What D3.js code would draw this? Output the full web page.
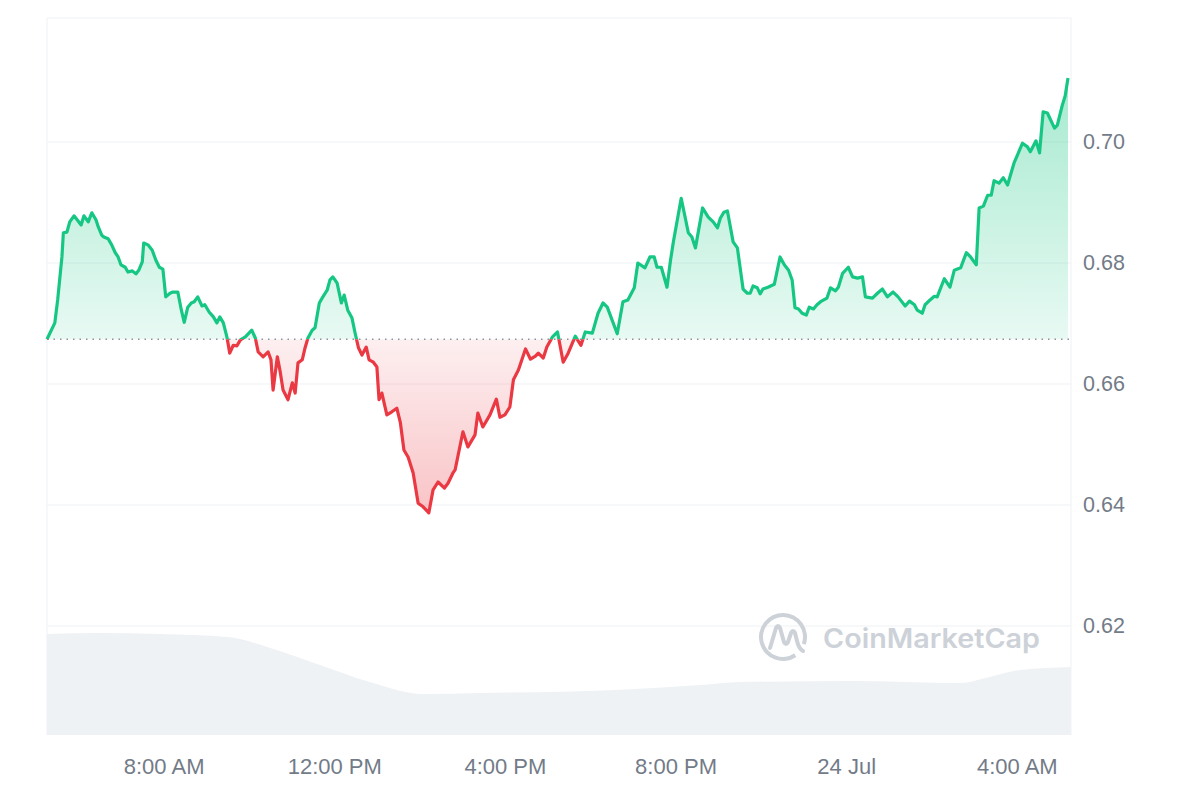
<!DOCTYPE html>
<html lang="en">
<head>
<meta charset="UTF-8" />
<title>price chart</title>
<script src="https://d3js.org/d3.v7.min.js"></script>
<style>
  body { margin: 0; background: #fff; }
  svg text { font-family: "Liberation Sans", Arial, sans-serif; fill: #737b88; }
</style>
</head>
<body>
<script>
// minutes after 23 Jul 05:16
var priceMinutes = [
  0, 11, 15, 21, 23, 28, 32, 38, 44, 48,
  52, 58, 63, 69, 72, 77, 80, 86, 91, 96,
  100, 104, 110, 114, 120, 125, 129, 134, 136, 142,
  148, 153, 158, 163, 167, 173, 177, 184, 189, 193,
  198, 203, 207, 212, 218, 222, 228, 234, 239, 243,
  248, 253, 257, 262, 267, 272, 279, 288, 293, 297,
  304, 311, 315, 318, 324, 328, 332, 339, 345, 349,
  353, 359, 363, 367, 373, 377, 383, 388, 394, 398,
  402, 408, 414, 418, 423, 429, 433, 438, 443, 449,
  453, 459, 464, 467, 471, 478, 485, 492, 497, 502,
  508, 515, 522, 529, 537, 543, 550, 559, 564, 571,
  574, 585, 592, 602, 606, 613, 623, 632, 637, 644,
  651, 656, 663, 673, 680, 687, 691, 698, 703, 711,
  718, 726, 733, 743, 751, 757, 767, 775, 782, 788,
  802, 810, 817, 826, 831, 841, 848, 854, 858, 864,
  872, 877, 881, 892, 902, 907, 912, 922, 930, 937,
  943, 947, 952, 957, 965, 971, 979, 985, 989, 993,
  999, 1003, 1007, 1014, 1023, 1031, 1037, 1043, 1048, 1052,
  1057, 1062, 1068, 1072, 1078, 1083, 1088, 1097, 1102, 1109,
  1113, 1119, 1127, 1133, 1140, 1147, 1151, 1161, 1168, 1175,
  1182, 1190, 1197, 1207, 1213, 1220, 1224, 1231, 1235, 1242,
  1248, 1252, 1262, 1270, 1276, 1285, 1293, 1299, 1307, 1311,
  1317, 1323, 1328, 1332, 1339, 1345, 1351, 1360, 1372, 1379,
  1383, 1391, 1396, 1401, 1407, 1417, 1421, 1428, 1432, 1436
];
var prices = [
  0.6674, 0.6701, 0.6739, 0.6810, 0.6850, 0.6851, 0.6868, 0.6878, 0.6869, 0.6863,
  0.6878, 0.6868, 0.6883, 0.6871, 0.6860, 0.6846, 0.6843, 0.6840, 0.6830, 0.6817,
  0.6810, 0.6797, 0.6793, 0.6785, 0.6787, 0.6782, 0.6788, 0.6802, 0.6833, 0.6830,
  0.6821, 0.6805, 0.6793, 0.6790, 0.6744, 0.6750, 0.6752, 0.6752, 0.6722, 0.6702,
  0.6727, 0.6734, 0.6736, 0.6744, 0.6729, 0.6731, 0.6719, 0.6711, 0.6701, 0.6711,
  0.6701, 0.6678, 0.6651, 0.6664, 0.6663, 0.6673, 0.6678, 0.6689, 0.6676, 0.6653,
  0.6645, 0.6653, 0.6640, 0.6590, 0.6645, 0.6620, 0.6590, 0.6574, 0.6602, 0.6585,
  0.6635, 0.6640, 0.6660, 0.6676, 0.6689, 0.6693, 0.6734, 0.6744, 0.6755, 0.6772,
  0.6777, 0.6767, 0.6734, 0.6747, 0.6722, 0.6709, 0.6686, 0.6660, 0.6648, 0.6661,
  0.6640, 0.6636, 0.6628, 0.6574, 0.6585, 0.6549, 0.6554, 0.6560, 0.6536, 0.6491,
  0.6479, 0.6453, 0.6403, 0.6397, 0.6387, 0.6425, 0.6438, 0.6428, 0.6436, 0.6453,
  0.6458, 0.6521, 0.6496, 0.6516, 0.6552, 0.6529, 0.6549, 0.6575, 0.6545, 0.6549,
  0.6562, 0.6607, 0.6623, 0.6658, 0.6641, 0.6646, 0.6651, 0.6643, 0.6661, 0.6678,
  0.6686, 0.6636, 0.6651, 0.6679, 0.6664, 0.6686, 0.6684, 0.6717, 0.6734, 0.6727,
  0.6683, 0.6736, 0.6739, 0.6759, 0.6800, 0.6792, 0.6810, 0.6810, 0.6793, 0.6793,
  0.6760, 0.6805, 0.6835, 0.6907, 0.6850, 0.6843, 0.6825, 0.6891, 0.6876, 0.6868,
  0.6858, 0.6874, 0.6884, 0.6886, 0.6835, 0.6825, 0.6757, 0.6750, 0.6750, 0.6762,
  0.6759, 0.6749, 0.6757, 0.6760, 0.6765, 0.6810, 0.6797, 0.6788, 0.6772, 0.6726,
  0.6724, 0.6717, 0.6714, 0.6727, 0.6724, 0.6731, 0.6736, 0.6742, 0.6759, 0.6754,
  0.6760, 0.6783, 0.6793, 0.6777, 0.6775, 0.6777, 0.6744, 0.6742, 0.6750, 0.6757,
  0.6744, 0.6752, 0.6744, 0.6729, 0.6737, 0.6731, 0.6722, 0.6717, 0.6731, 0.6739,
  0.6745, 0.6744, 0.6774, 0.6760, 0.6788, 0.6792, 0.6817, 0.6810, 0.6797, 0.6891,
  0.6894, 0.6912, 0.6912, 0.6936, 0.6932, 0.6941, 0.6929, 0.6965, 0.6998, 0.6992,
  0.6984, 0.7002, 0.6982, 0.7050, 0.7048, 0.7023, 0.7028, 0.7061, 0.7076, 0.7106
];
// volume (relative units)
var volMinutes = [0, 75, 159, 255, 314, 384, 454, 529, 609, 799, 919, 975, 1130, 1285, 1320, 1369, 1440];
var volumes = [101, 102, 101, 98, 87, 70, 53, 41, 42, 45, 50, 53, 54, 52, 57, 65, 68];

var yTicks = [0.62, 0.64, 0.66, 0.68, 0.70];
var xTickHours = [8, 12, 16, 20, 24, 28];
var xTickLabels = ['8:00 AM', '12:00 PM', '4:00 PM', '8:00 PM', '24 Jul', '4:00 AM'];

var width = 1200, height = 800;
var padL = 47, padR = 1071, padT = 18, padB = 735;

var start = new Date(2023, 6, 23, 5, 16);
var day0 = new Date(2023, 6, 23, 0, 0);
var data = priceMinutes.map((m, i) => ({ t: d3.timeMinute.offset(start, m), v: prices[i] }));
var vol = volMinutes.map((m, i) => ({ t: d3.timeMinute.offset(start, m), v: volumes[i] }));
var base = prices[0];

var x = d3.scaleTime().domain([start, d3.timeMinute.offset(start, 1436)]).range([padL, 1068]);
var y = d3.scaleLinear().domain([0.60198, 0.7205]).range([padB, padT]);
var yv = d3.scaleLinear().domain([0, 150]).range([padB, padB - 150]);

var svg = d3.select('body').append('svg').attr('width', width).attr('height', height);

var defs = svg.append('defs');
var gUp = defs.append('linearGradient').attr('id', 'gUp').attr('gradientUnits', 'userSpaceOnUse')
  .attr('x1', 0).attr('x2', 0).attr('y1', y(0.7106)).attr('y2', y(base));
gUp.append('stop').attr('offset', 0).attr('stop-color', '#16c784').attr('stop-opacity', 0.38);
gUp.append('stop').attr('offset', 1).attr('stop-color', '#16c784').attr('stop-opacity', 0.1);
var gDn = defs.append('linearGradient').attr('id', 'gDn').attr('gradientUnits', 'userSpaceOnUse')
  .attr('x1', 0).attr('x2', 0).attr('y1', y(base)).attr('y2', y(0.6387));
gDn.append('stop').attr('offset', 0).attr('stop-color', '#ea3943').attr('stop-opacity', 0.08);
gDn.append('stop').attr('offset', 1).attr('stop-color', '#ea3943').attr('stop-opacity', 0.3);

defs.append('clipPath').attr('id', 'above').append('rect')
  .attr('x', 0).attr('y', 0).attr('width', width).attr('height', y(base));
defs.append('clipPath').attr('id', 'below').append('rect')
  .attr('x', 0).attr('y', y(base)).attr('width', width).attr('height', height - y(base));

// grid + frame
svg.append('g').selectAll('line').data(yTicks).join('line')
  .attr('x1', padL).attr('x2', padR).attr('y1', d => y(d)).attr('y2', d => y(d))
  .attr('stroke', '#eff1f4').attr('stroke-width', 1);
svg.append('path')
  .attr('d', `M${padL},${padB}V${padT}H${padR}V${padB}`)
  .attr('fill', 'none').attr('stroke', '#eff1f4');

// volume
svg.append('path').datum(vol)
  .attr('fill', '#eff2f5')
  .attr('d', d3.area().x(d => x(d.t)).y0(padB).y1(d => yv(d.v)).curve(d3.curveMonotoneX));

// watermark
var wm = svg.append('g').attr('transform', 'translate(783,637)');
wm.append('path')
  .attr('d', d3.arc()({ innerRadius: 20, outerRadius: 24, startAngle: 2.55, endAngle: 2 * Math.PI + 1.9 }))
  .attr('fill', '#cdd1d8');
wm.append('path')
  .attr('d', 'M-13,11 L-7,-9 Q-5,-13 -3,-9 L1,5 Q3,9 5,5 L8,-4 Q10,-8 12,-4 L14,4 Q16,12 20,14')
  .attr('fill', 'none').attr('stroke', '#cdd1d8').attr('stroke-width', 4).attr('stroke-linecap', 'round').attr('stroke-linejoin', 'round');
svg.append('text').attr('x', 823).attr('y', 648)
  .attr('textLength', 217).attr('lengthAdjust', 'spacingAndGlyphs')
  .style('font-family', 'Inter, "Noto Sans", sans-serif').style('font-size', '27px').style('font-weight', 600)
  .style('fill', '#cdd1d8').text('CoinMarketCap');

// price areas
var area = d3.area().x(d => x(d.t)).y0(y(base)).y1(d => y(d.v));
svg.append('path').datum(data).attr('d', area).attr('fill', 'url(#gUp)').attr('clip-path', 'url(#above)');
svg.append('path').datum(data).attr('d', area).attr('fill', 'url(#gDn)').attr('clip-path', 'url(#below)');

// baseline
svg.append('line').attr('x1', padL).attr('x2', padR).attr('y1', y(base)).attr('y2', y(base))
  .attr('stroke', '#8d939e').attr('stroke-width', 1.5).attr('stroke-dasharray', '1.5,5');

// price line
var line = d3.line().x(d => x(d.t)).y(d => y(d.v));
[['above', '#16c784'], ['below', '#ea3943']].forEach(c => {
  svg.append('path').datum(data).attr('d', line)
    .attr('fill', 'none').attr('stroke', c[1]).attr('stroke-width', 3.2)
    .attr('stroke-linejoin', 'round').attr('clip-path', `url(#${c[0]})`);
});

// axes
var yAxis = d3.axisRight(y).tickValues(yTicks).tickFormat(d3.format('.2f')).tickSize(0).tickPadding(12);
var gy = svg.append('g').attr('transform', `translate(${padR},0)`).call(yAxis);
gy.select('.domain').remove();
gy.selectAll('text').style('font-size', '21.5px').style('fill', '#737b88')
  .style('font-family', '"Liberation Sans", Arial, sans-serif');

var xTicks = xTickHours.map(h => d3.timeHour.offset(day0, h));
var xAxis = d3.axisBottom(x).tickValues(xTicks).tickFormat((d, i) => xTickLabels[i]).tickSize(0).tickPadding(23);
var gx = svg.append('g').attr('transform', `translate(0,${padB})`).call(xAxis);
gx.select('.domain').remove();
gx.selectAll('text').style('font-size', '22px').style('fill', '#737b88')
  .style('font-family', '"Liberation Sans", Arial, sans-serif');
</script>
</body>
</html>
